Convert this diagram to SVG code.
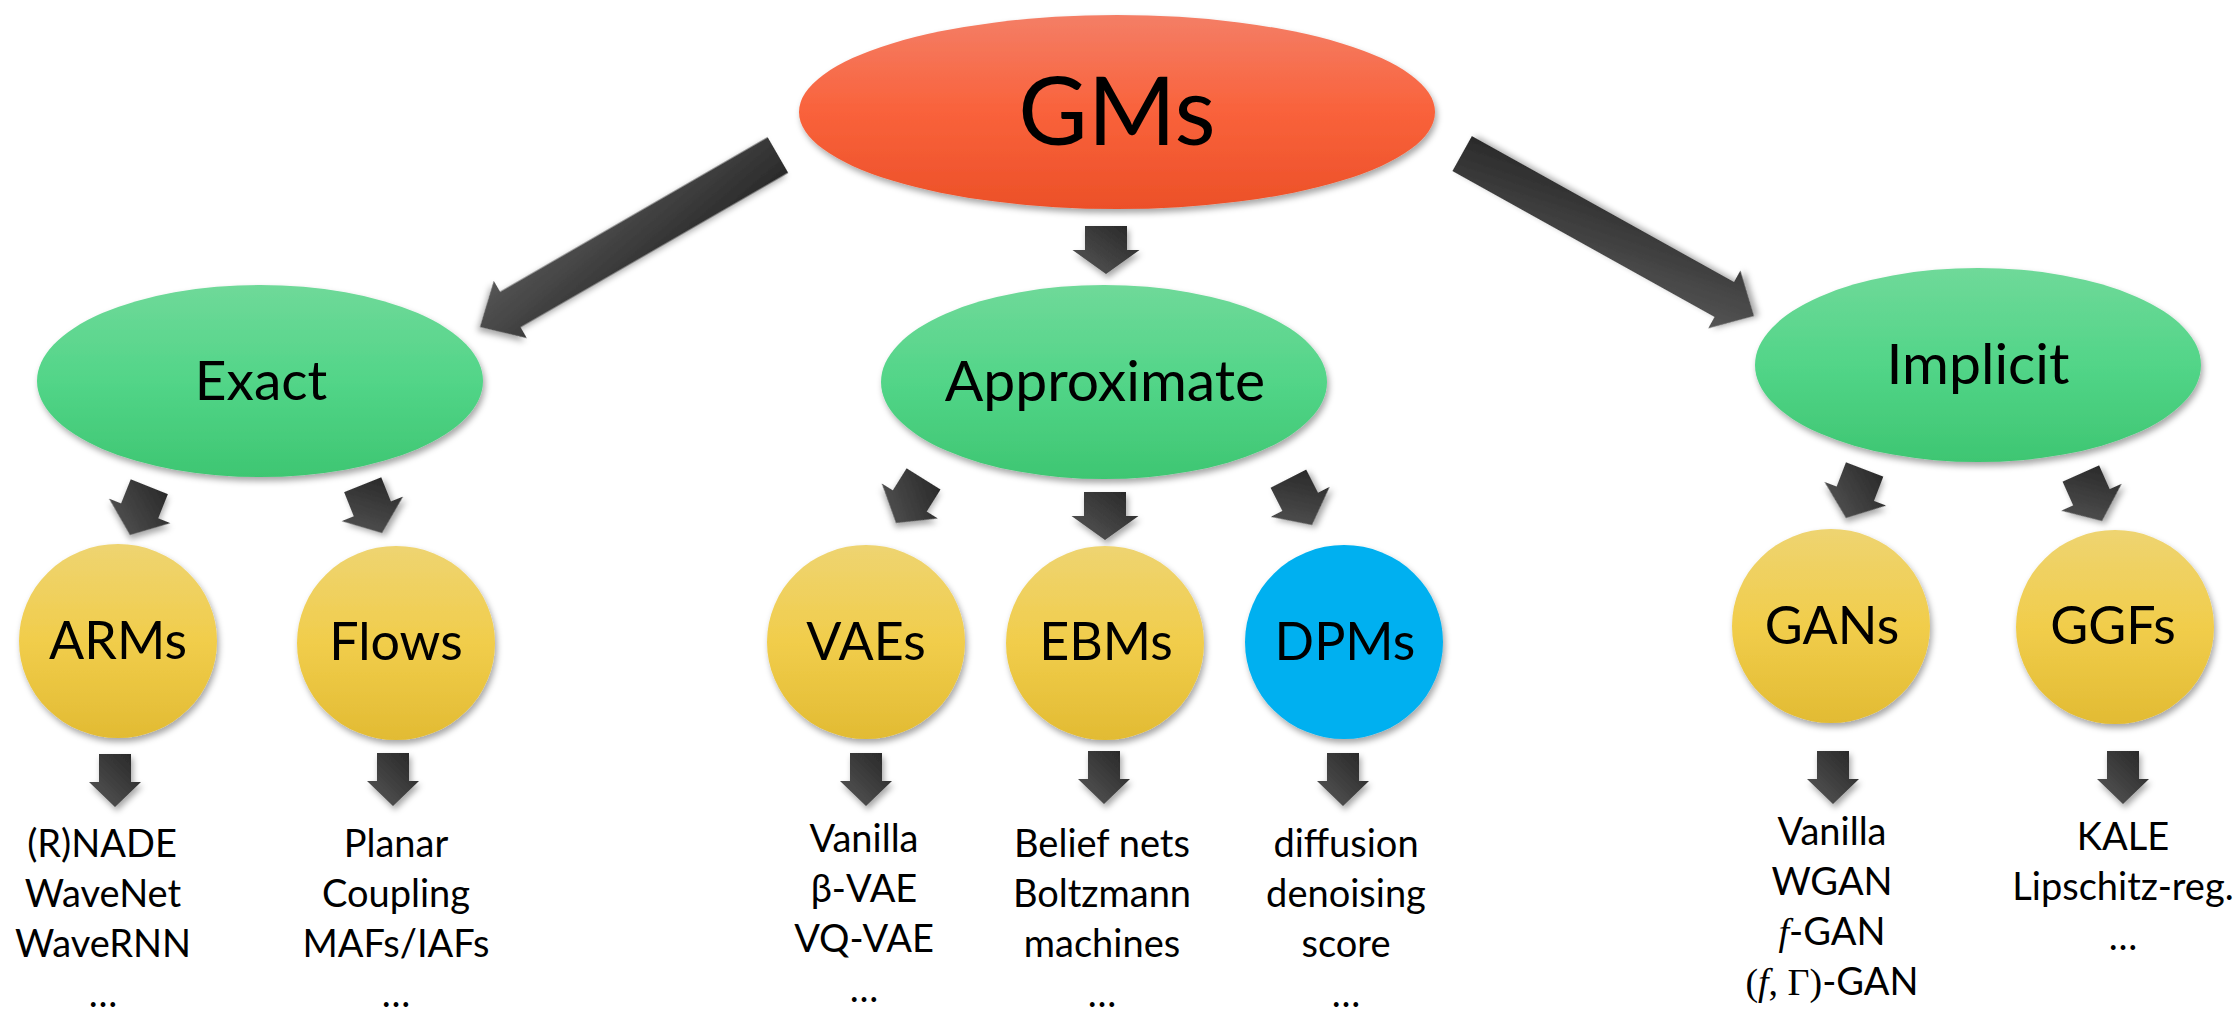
<svg xmlns="http://www.w3.org/2000/svg" width="2239" height="1014" viewBox="0 0 2239 1014">
<defs>
<linearGradient id="gRed" x1="0" y1="0" x2="0" y2="1"><stop offset="0" stop-color="#f47e66"/><stop offset="0.5" stop-color="#f9623b"/><stop offset="1" stop-color="#ec5028"/></linearGradient>
<linearGradient id="gGreen" x1="0" y1="0" x2="0" y2="1"><stop offset="0" stop-color="#6fd999"/><stop offset="0.5" stop-color="#52d588"/><stop offset="1" stop-color="#3ec672"/></linearGradient>
<linearGradient id="gYellow" x1="0" y1="0" x2="0" y2="1"><stop offset="0" stop-color="#eed471"/><stop offset="0.5" stop-color="#f1cd4b"/><stop offset="1" stop-color="#e2bb33"/></linearGradient>
<linearGradient id="gArrow" x1="1" y1="0" x2="0" y2="1"><stop offset="0" stop-color="#252525"/><stop offset="1" stop-color="#585858"/></linearGradient>
<filter id="sh" x="-20%" y="-20%" width="140%" height="140%"><feDropShadow dx="2" dy="4" stdDeviation="3" flood-color="#000" flood-opacity="0.35"/></filter>
<polygon id="aSmall" points="-20,-52 20,-52 20,-26 33,-26 0,0 -33,-26 -20,-26"/>
<polygon id="aVert" points="-21,-48 21,-48 21,-24 33.5,-24 0,0 -33.5,-24 -21,-24"/>
<polygon id="aBottom" points="-16,-53 16,-53 16,-25 26,-25 0,0 -26,-25 -16,-25"/>
</defs>
<style>
.node text{font-family:Lato,"Open Sans","Liberation Sans",sans-serif;fill:#000;text-anchor:middle}
.red{fill:url(#gRed);filter:url(#sh)}
.green{fill:url(#gGreen);filter:url(#sh)}
.yellow{fill:url(#gYellow);filter:url(#sh)}
.blue{fill:#00b0f0;filter:url(#sh)}
.t1{font-size:95px}
.t2{font-size:57px}
.t3{font-size:52px}
.lst{font-size:38px}
.m{font-family:"Liberation Serif",serif}
.mi{font-family:"Liberation Serif",serif;font-style:italic}
#connectors use,#connectors polygon{fill:url(#gArrow);filter:url(#sh)}
</style>
<rect width="2239" height="1014" fill="#fff"/>

<g id="connectors">
<polygon transform="translate(480,327) rotate(60)" points="-20.5,-344 20.5,-344 20.5,-35 33,-35 0,0 -33,-35 -20.5,-35"/>
<polygon transform="translate(1754,316) rotate(-60.9)" points="-20,-334 20,-334 20,-34 33,-34 0,0 -33,-34 -20,-34"/>
<use href="#aVert" transform="translate(1106,274)"/>
<use href="#aSmall" transform="translate(130,535) rotate(21.8)"/>
<use href="#aSmall" transform="translate(382,533) rotate(-21.8)"/>
<use href="#aSmall" transform="translate(896,523) rotate(32)"/>
<use href="#aVert" transform="translate(1105,540)"/>
<use href="#aSmall" transform="translate(1312,525) rotate(-27)"/>
<use href="#aSmall" transform="translate(1846,518) rotate(21)"/>
<use href="#aSmall" transform="translate(2102,521) rotate(-24)"/>
<use href="#aBottom" transform="translate(115,807)"/>
<use href="#aBottom" transform="translate(393,806)"/>
<use href="#aBottom" transform="translate(866,806)"/>
<use href="#aBottom" transform="translate(1104,804)"/>
<use href="#aBottom" transform="translate(1343,806)"/>
<use href="#aBottom" transform="translate(1833,804)"/>
<use href="#aBottom" transform="translate(2123,804)"/>
</g>

<g id="gms" class="node"><ellipse class="red" cx="1117" cy="112" rx="318" ry="97"/><text class="t1" x="1117" y="145">GMs</text></g>

<g id="exact" class="node"><ellipse class="green" cx="260" cy="381" rx="223" ry="96"/><text class="t2" x="261" y="400" style="font-size:55px">Exact</text></g>
<g id="approximate" class="node"><ellipse class="green" cx="1104" cy="382" rx="223" ry="97"/><text class="t2" x="1105" y="401">Approximate</text></g>
<g id="implicit" class="node"><ellipse class="green" cx="1978" cy="365" rx="223" ry="97"/><text class="t2" x="1978" y="384">Implicit</text></g>

<g id="arms" class="node"><ellipse class="yellow" cx="118" cy="641" rx="99" ry="97"/><text class="t3" x="118" y="659">ARMs</text></g>
<g id="flows" class="node"><ellipse class="yellow" cx="396" cy="643" rx="99" ry="97"/><text class="t3" x="396" y="660">Flows</text></g>
<g id="vaes" class="node"><ellipse class="yellow" cx="866" cy="642" rx="99" ry="97"/><text class="t3" x="866" y="660">VAEs</text></g>
<g id="ebms" class="node"><ellipse class="yellow" cx="1105" cy="643" rx="99" ry="97"/><text class="t3" x="1106" y="660">EBMs</text></g>
<g id="dpms" class="node"><ellipse class="blue" cx="1344" cy="642" rx="99" ry="97"/><text class="t3" x="1345" y="660">DPMs</text></g>
<g id="gans" class="node"><ellipse class="yellow" cx="1831" cy="626" rx="99" ry="97"/><text class="t3" x="1832" y="644">GANs</text></g>
<g id="ggfs" class="node"><ellipse class="yellow" cx="2115" cy="627" rx="99" ry="97"/><text class="t3" x="2113" y="644">GGFs</text></g>

<g id="arms-list" class="node"><text class="lst" x="102" y="857">(R)NADE</text><text class="lst" x="103" y="907">WaveNet</text><text class="lst" x="103" y="957">WaveRNN</text><text class="lst" x="103" y="1007">…</text></g>
<g id="flows-list" class="node"><text class="lst" x="396" y="857">Planar</text><text class="lst" x="396" y="907">Coupling</text><text class="lst" x="396" y="957">MAFs/IAFs</text><text class="lst" x="396" y="1007">…</text></g>
<g id="vaes-list" class="node"><text class="lst" x="864" y="852">Vanilla</text><text class="lst" x="864" y="902">β-VAE</text><text class="lst" x="864" y="952">VQ-VAE</text><text class="lst" x="864" y="1002">…</text></g>
<g id="ebms-list" class="node"><text class="lst" x="1102" y="857">Belief nets</text><text class="lst" x="1102" y="907">Boltzmann</text><text class="lst" x="1102" y="957">machines</text><text class="lst" x="1102" y="1007">…</text></g>
<g id="dpms-list" class="node"><text class="lst" x="1346" y="857">diffusion</text><text class="lst" x="1346" y="907">denoising</text><text class="lst" x="1346" y="957">score</text><text class="lst" x="1346" y="1007">…</text></g>
<g id="gans-list" class="node"><text class="lst" x="1832" y="845">Vanilla</text><text class="lst" x="1832" y="895">WGAN</text><text class="lst" x="1832" y="945"><tspan class="mi">f</tspan>-GAN</text><text class="lst" x="1832" y="995"><tspan class="m">(</tspan><tspan class="mi">f</tspan><tspan class="m">, Γ)</tspan>-GAN</text></g>
<g id="ggfs-list" class="node"><text class="lst" x="2123" y="850">KALE</text><text class="lst" x="2123" y="900">Lipschitz-reg.</text><text class="lst" x="2123" y="950">…</text></g>
</svg>
